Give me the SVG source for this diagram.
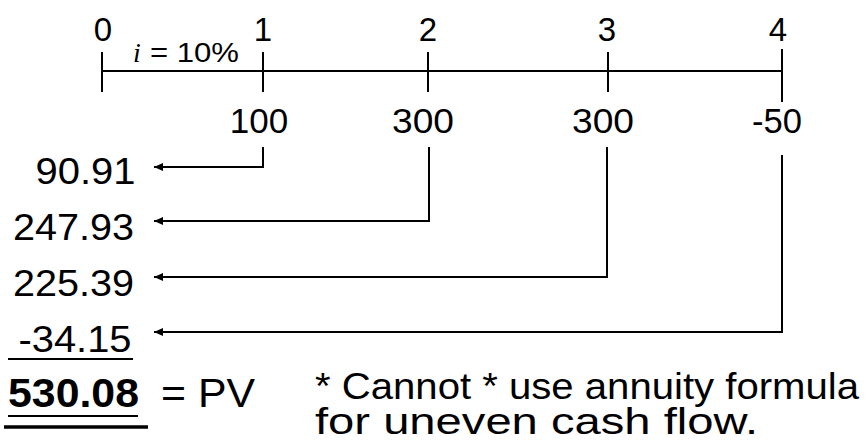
<svg xmlns="http://www.w3.org/2000/svg" width="865" height="441" viewBox="0 0 865 441">
<style>
  text { font-family: "Liberation Sans", Arial, sans-serif; fill: #000; }
  .t { font-size: 33px; text-anchor: middle; }
  .cf { font-size: 35px; text-anchor: middle; }
  .pv { font-size: 36px; }
  .ln { stroke: #000; stroke-width: 2; fill: none; }
  .conn { stroke: #000; stroke-width: 2; fill: none; marker-end: url(#ah); }
</style>
<defs>
  <marker id="ah" markerUnits="userSpaceOnUse" markerWidth="12" markerHeight="10" refX="9" refY="4" orient="auto">
    <path d="M0,0 L9,4 L0,8 Z" fill="#000"/>
  </marker>
</defs>
<rect width="865" height="441" fill="#fff"/>

<g id="timeline">
  <line class="ln" x1="102" y1="71" x2="782" y2="71"/>
  <line class="ln" x1="102" y1="52" x2="102" y2="92"/>
  <line class="ln" x1="263" y1="52" x2="263" y2="92"/>
  <line class="ln" x1="428" y1="52" x2="428" y2="92"/>
  <line class="ln" x1="608" y1="52" x2="608" y2="92"/>
  <line class="ln" x1="782" y1="49" x2="782" y2="102"/>
  <text class="t" x="103" y="41" textLength="21">0</text>
  <text class="t" x="263" y="41" textLength="21">1</text>
  <text class="t" x="428" y="41" textLength="21">2</text>
  <text class="t" x="607" y="41" textLength="21">3</text>
  <text class="t" x="778" y="41" textLength="21">4</text>
  <text x="133" y="62" style="font-family:'Liberation Serif',serif;font-style:italic;font-size:28px">i</text>
  <text x="150" y="62" style="font-size:28px" textLength="89" lengthAdjust="spacingAndGlyphs">= 10%</text>
</g>

<g id="cf1"><text class="cf" x="259" y="133">100</text></g>
<g id="cf2"><text class="cf" x="423" y="133" textLength="62" lengthAdjust="spacingAndGlyphs">300</text></g>
<g id="cf3"><text class="cf" x="603" y="133" textLength="62" lengthAdjust="spacingAndGlyphs">300</text></g>
<g id="cf4"><text class="cf" x="777" y="133" textLength="50" lengthAdjust="spacingAndGlyphs">-50</text></g>

<g id="pv1"><text class="pv" x="35.5" y="184" textLength="100" lengthAdjust="spacingAndGlyphs">90.91</text></g>
<g id="pv2"><text class="pv" x="13" y="240" textLength="121" lengthAdjust="spacingAndGlyphs">247.93</text></g>
<g id="pv3"><text class="pv" x="13" y="296" textLength="121" lengthAdjust="spacingAndGlyphs">225.39</text></g>
<g id="pv4"><text class="pv" x="18.5" y="352" textLength="113" lengthAdjust="spacingAndGlyphs">-34.15</text></g>

<g id="total">
  <line x1="8" y1="359" x2="133" y2="359" stroke="#000" stroke-width="2"/>
  <text x="8" y="407" style="font-size:40px;font-weight:bold" textLength="131" lengthAdjust="spacingAndGlyphs">530.08</text>
  <text x="161" y="407" style="font-size:40px" textLength="94" lengthAdjust="spacingAndGlyphs">= PV</text>
  <line x1="8" y1="416" x2="138" y2="416" stroke="#000" stroke-width="2"/>
  <line x1="4" y1="427" x2="148" y2="427" stroke="#000" stroke-width="3.5"/>
</g>

<g id="note">
  <text style="font-size:36px"><tspan x="315" y="399" textLength="544" lengthAdjust="spacingAndGlyphs">* Cannot * use annuity formula</tspan><tspan x="315" y="434" textLength="443" lengthAdjust="spacingAndGlyphs">for uneven cash flow.</tspan></text>
</g>

<g id="connectors">
  <path class="conn" d="M263,147 V167 H154"/>
  <path class="conn" d="M429,147 V221 H154"/>
  <path class="conn" d="M607,147 V277 H154"/>
  <path class="conn" d="M782,155 V332 H154"/>
</g>
</svg>
